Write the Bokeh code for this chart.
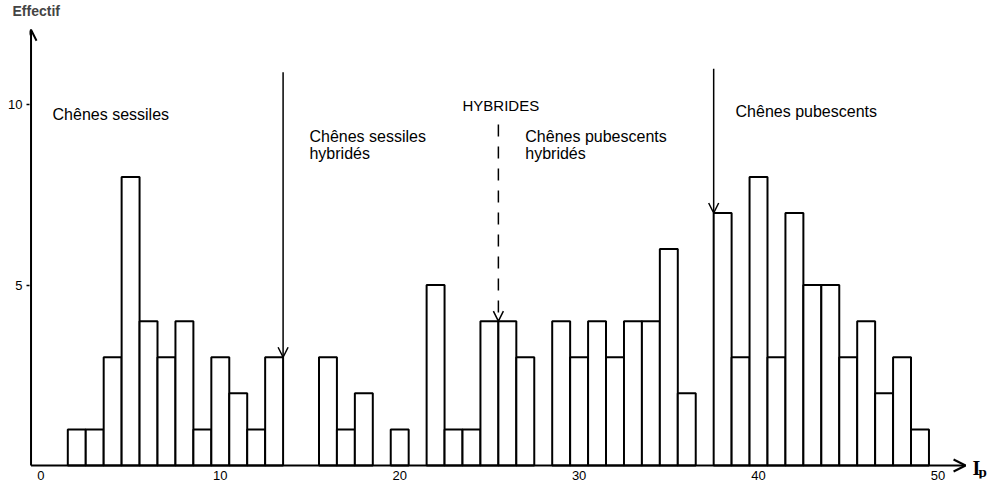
from bokeh.plotting import figure
from bokeh.models import Range1d, FixedTicker, Arrow, OpenHead, Label, ColumnDataSource
from bokeh.embed import file_html
from bokeh.resources import INLINE

# Indice de pubescence (classes) and effectif
ip_classes = [2, 3, 4, 5, 6, 7, 8, 9, 10, 11, 12, 13, 14, 15, 16, 17, 18, 19, 20, 21,
              22, 23, 24, 25, 26, 27, 28, 29, 30, 31, 32, 33, 34, 35, 36, 37, 38, 39,
              40, 41, 42, 43, 44, 45, 46, 47, 48, 49]
effectif = [1, 1, 3, 8, 4, 3, 4, 1, 3, 2, 1, 3, 0, 0, 3, 1, 2, 0, 1, 0,
            5, 1, 1, 4, 4, 3, 0, 4, 3, 4, 3, 4, 4, 6, 2, 0, 7, 3,
            8, 3, 7, 5, 5, 3, 4, 2, 3, 1]
x_ticks = [0, 10, 20, 30, 40, 50]
y_ticks = [5, 10]

# boundaries (in Ip units) marked by arrows
limit_sessiles = 13.5
limit_hybrides = 25.5
limit_pubescents = 37.5

FONT = "Liberation Sans"
SERIF = "Liberation Serif"

xs = [c for c, n in zip(ip_classes, effectif) if n > 0]
ns = [n for n in effectif if n > 0]
src = ColumnDataSource(dict(left=[c - 0.5 for c in xs], right=[c + 0.5 for c in xs],
                            top=ns, bottom=[0] * len(ns)))

p = figure(width=990, height=482, output_backend="svg", toolbar_location=None,
           x_range=Range1d(-0.635, 52.93), y_range=Range1d(-0.36, 12.39),
           min_border_left=29, min_border_right=0, min_border_top=0, min_border_bottom=0,
           title="Effectif")
p.title.text_font = FONT
p.title.text_font_size = "14px"
p.title.text_font_style = "bold"
p.title.align = "left"
p.title.offset = -17
p.title.standoff = 0
p.outline_line_color = None
p.xgrid.visible = False
p.ygrid.visible = False
p.background_fill_color = "white"
p.border_fill_color = "white"

p.quad(left="left", right="right", top="top", bottom="bottom", source=src,
       fill_color="white", line_color="black", line_width=2)

# axes
p.xaxis.ticker = FixedTicker(ticks=x_ticks)
p.xaxis.axis_line_color = None
p.xaxis.major_tick_out = 0
p.xaxis.major_tick_in = 0
p.xaxis.minor_tick_out = 0
p.xaxis.minor_tick_in = 0
p.xaxis.major_label_standoff = -8
p.xaxis.major_label_text_font = FONT
p.xaxis.major_label_text_font_size = "13px"
p.xaxis.major_label_text_color = "black"

p.yaxis.ticker = FixedTicker(ticks=y_ticks)
p.yaxis.axis_line_color = None
p.yaxis.major_tick_out = 3
p.yaxis.major_tick_in = 0
p.yaxis.major_tick_line_width = 1.5
p.yaxis.minor_tick_out = 0
p.yaxis.minor_tick_in = 0
p.yaxis.major_label_standoff = 4
p.yaxis.major_label_text_font = FONT
p.yaxis.major_label_text_font_size = "13px"
p.yaxis.major_label_text_color = "black"

# axis arrows
p.add_layout(Arrow(x_start=-0.55, y_start=0, x_end=-0.55, y_end=12.08,
                   line_width=2, end=OpenHead(size=11, line_width=2)))
p.add_layout(Arrow(x_start=-0.55, y_start=0, x_end=51.54, y_end=0,
                   line_width=2, end=OpenHead(size=12, line_width=2)))

# boundary arrows
p.add_layout(Arrow(x_start=limit_sessiles, y_start=10.9, x_end=limit_sessiles, y_end=3,
                   line_width=1.5, end=OpenHead(size=10, line_width=1.5)))
p.add_layout(Arrow(x_start=limit_hybrides, y_start=9.45, x_end=limit_hybrides, y_end=4,
                   line_width=1.5, line_dash="12 10", end=OpenHead(size=10, line_width=1.5)))
p.add_layout(Arrow(x_start=limit_pubescents, y_start=11.0, x_end=limit_pubescents, y_end=7,
                   line_width=1.5, end=OpenHead(size=10, line_width=1.5)))

def lab(x, y, t, size="16px", style="normal", font=FONT, baseline="middle"):
    p.add_layout(Label(x=x, y=y, text=t, text_font=font, text_font_size=size,
                       text_font_style=style, text_baseline=baseline, text_align="left",
                       text_color="black"))

lab(0.65, 9.72, "Chênes sessiles")
lab(14.97, 9.11, "Chênes sessiles")
lab(14.97, 8.64, "hybridés")
lab(23.5, 9.97, "HYBRIDES", size="15px")
lab(27.0, 9.11, "Chênes pubescents")
lab(27.0, 8.64, "hybridés")
lab(38.72, 9.81, "Chênes pubescents")
lab(51.93, -0.06, "I", size="20px", style="bold", font=SERIF, baseline="alphabetic")
lab(52.26, -0.19, "p", size="15px", style="bold", font=SERIF, baseline="alphabetic")

open("out.html", "w").write(file_html(p, INLINE))
